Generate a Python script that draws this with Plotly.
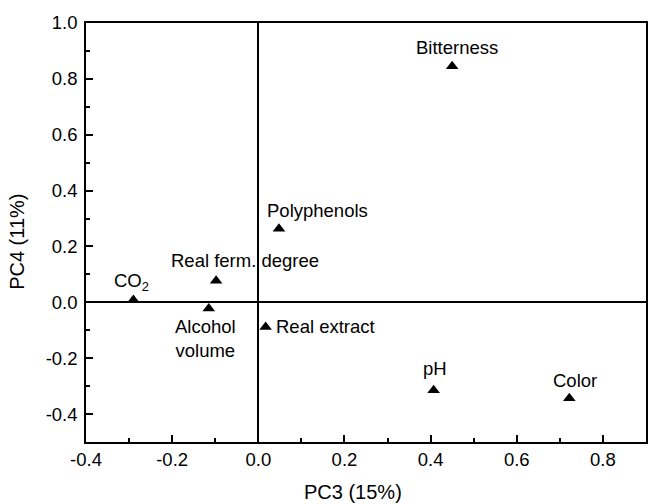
import plotly.graph_objects as go

names = ["Bitterness", "Polyphenols", "Real ferm. degree", "CO<sub>2</sub>",
         "Alcohol<br>volume", "Real extract", "pH", "Color"]
pc3 = [0.45, 0.048, -0.098, -0.29, -0.115, 0.017, 0.407, 0.722]
pc4 = [0.845, 0.263, 0.077, 0.008, -0.022, -0.088, -0.315, -0.343]

x_ticks = [-0.4, -0.2, 0.0, 0.2, 0.4, 0.6, 0.8]
x_ticktext = ["-0.4", "-0.2", "0.0", "0.2", "0.4", "0.6", "0.8"]
y_ticks = [-0.4, -0.2, 0.0, 0.2, 0.4, 0.6, 0.8, 1.0]
y_ticktext = ["-0.4", "-0.2", "0.0", "0.2", "0.4", "0.6", "0.8", "1.0"]

# label offsets in pixels (style only)
offsets = [(5, 19, "center"), (-14, 18, "left"), (29, 20, "center"), (-2, 18, "center"),
           (-3, -30, "center"), (8, 0, "left"), (1, 22, "center"), (6, 18, "center")]

FONT = "Liberation Sans, Arial, sans-serif"
FS = 18.5

fig = go.Figure()
fig.add_trace(go.Scatter(x=pc3, y=pc4, mode="markers",
                         marker=dict(symbol="triangle-up", size=11, color="black"),
                         showlegend=False, hoverinfo="skip"))

for n, x, y, (dx, dy, anc) in zip(names, pc3, pc4, offsets):
    fig.add_annotation(x=x, y=y, xref="x", yref="y", text=n, showarrow=False,
                       xshift=dx, yshift=dy, xanchor=anc,
                       font=dict(family=FONT, size=FS, color="black"))

# axis titles
fig.add_annotation(x=0.477, y=-0.119, xref="paper", yref="paper", text="PC3 (15%)",
                   showarrow=False, xanchor="center", yanchor="middle",
                   font=dict(family=FONT, size=20, color="black"))
fig.add_annotation(x=-0.123, y=0.478, xref="paper", yref="paper", text="PC4 (11%)",
                   showarrow=False, xanchor="center", yanchor="middle", textangle=-90,
                   font=dict(family=FONT, size=20, color="black"))

axis_common = dict(showline=True, linecolor="black", linewidth=1.5, mirror=True,
                   ticks="inside", ticklen=7, tickwidth=1.5, tickcolor="black",
                   showgrid=False, zeroline=True, zerolinecolor="black", zerolinewidth=1.5,
                   tickfont=dict(family=FONT, size=FS, color="black"))

fig.update_xaxes(range=[-0.4, 0.9], tickmode="array", tickvals=x_ticks, ticktext=x_ticktext,
                 minor=dict(ticks="inside", ticklen=4, tickwidth=1.5, tickcolor="black", dtick=0.1, tick0=0),
                 **axis_common)
fig.update_yaxes(range=[-0.5, 1.0], tickmode="array", tickvals=y_ticks, ticktext=y_ticktext,
                 ticklabelstandoff=3,
                 minor=dict(ticks="inside", ticklen=4, tickwidth=1.5, tickcolor="black", dtick=0.1, tick0=0),
                 **axis_common)

fig.update_layout(width=650, height=504, margin=dict(l=86, r=2, t=23, b=62),
                  plot_bgcolor="white", paper_bgcolor="white")

fig.write_html("out.html")
